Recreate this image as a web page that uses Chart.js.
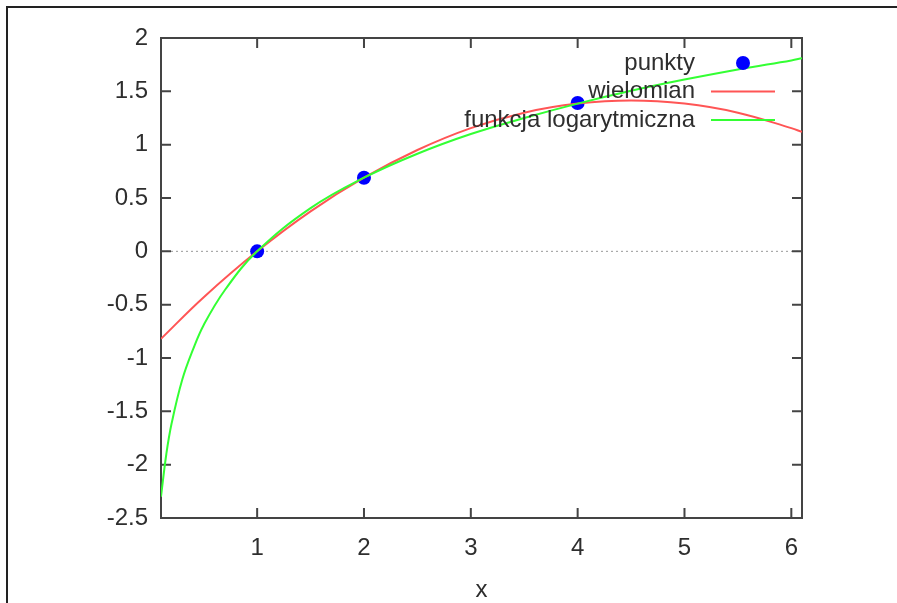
<!DOCTYPE html>
<html>
<head>
<meta charset="utf-8">
<script src="https://cdn.jsdelivr.net/npm/chart.js@4/dist/chart.umd.min.js"></script>
<style>
  html, body { margin:0; padding:0; background:#fff; }
  #wrap { position:relative; width:897px; height:603px; }
  #frame { position:absolute; left:6px; top:6px; right:0; bottom:0;
           border-top:2px solid #222; border-left:2px solid #222; pointer-events:none; }
  canvas { position:absolute; left:0; top:0; }
</style>
</head>
<body>
<div id="wrap">
  <canvas id="chart" width="897" height="603"></canvas>
  <div id="frame"></div>
</div>
<script>
// ---------- Datos ----------
const xTicks = [1, 2, 3, 4, 5, 6];
const xTickLabels = ["1", "2", "3", "4", "5", "6"];
const yTicks = [-2.5, -2, -1.5, -1, -0.5, 0, 0.5, 1, 1.5, 2];
const yTickLabels = ["-2.5", "-2", "-1.5", "-1", "-0.5", "0", "0.5", "1", "1.5", "2"];

// punkty
const pointX = [1, 2, 4];
const pointY = [0, 0.69, 1.39];

// wielomian (czerwona)
const polyX = [0.1, 0.5, 1, 1.5, 2, 2.5, 3, 3.5, 4, 4.5, 5, 5.5, 6, 6.1];
const polyY = [-0.82, -0.43, 0, 0.375, 0.69, 0.95, 1.155, 1.30, 1.385, 1.415, 1.385, 1.30, 1.155, 1.12];

// funkcja logarytmiczna (zielona)
const logX = [0.1, 0.15, 0.2, 0.3, 0.4, 0.5, 0.7, 1, 1.5, 2, 2.5, 3, 3.5, 4, 4.5, 5, 5.5, 6, 6.1];
const logY = [-2.30, -1.90, -1.61, -1.20, -0.92, -0.69, -0.36, 0, 0.405, 0.69, 0.915, 1.10, 1.25, 1.385, 1.505, 1.61, 1.705, 1.79, 1.81];

const seriesNames = ["punkty", "wielomian", "funkcja logarytmiczna"];
const colors = { points: "#0000ff", poly: "#ff5555", log: "#33ff33", text: "#2e2e2e", axis: "#444" };

function toXY(xs, ys){ return xs.map((x,i)=>({x, y: ys[i]})); }

// ---------- Plugin: marco estilo gnuplot ----------
const frame = {
  id: "frame",
  beforeDatasetsDraw(chart){
    const {ctx, chartArea: a, scales:{x, y}} = chart;
    ctx.save();
    // línea de cero punteada
    const y0 = y.getPixelForValue(0);
    ctx.strokeStyle = "#999";
    ctx.lineWidth = 1;
    ctx.setLineDash([2, 3]);
    ctx.beginPath(); ctx.moveTo(a.left, y0); ctx.lineTo(a.right, y0); ctx.stroke();
    ctx.setLineDash([]);
    // borde y marcas hacia dentro
    ctx.strokeStyle = colors.axis;
    ctx.lineWidth = 2;
    ctx.strokeRect(a.left, a.top, a.right - a.left, a.bottom - a.top);
    const t = 10;
    ctx.beginPath();
    xTicks.forEach(v=>{
      const px = x.getPixelForValue(v);
      ctx.moveTo(px, a.bottom); ctx.lineTo(px, a.bottom - t);
      ctx.moveTo(px, a.top); ctx.lineTo(px, a.top + t);
    });
    yTicks.forEach(v=>{
      const py = y.getPixelForValue(v);
      ctx.moveTo(a.left, py); ctx.lineTo(a.left + t, py);
      ctx.moveTo(a.right, py); ctx.lineTo(a.right - t, py);
    });
    ctx.stroke();
    ctx.restore();
  }
};

// ---------- Plugin: leyenda (key) ----------
const key = {
  id: "key",
  afterDatasetsDraw(chart){
    const {ctx} = chart;
    const textRight = 695, sx1 = 711, sx2 = 775;
    const rows = [63, 91.5, 120];
    ctx.save();
    ctx.font = "24px 'Liberation Sans', Arial, sans-serif";
    ctx.fillStyle = colors.text;
    ctx.textAlign = "right";
    ctx.textBaseline = "middle";
    seriesNames.forEach((n,i)=> ctx.fillText(n, textRight, rows[i]));
    // muestras
    ctx.fillStyle = colors.points;
    ctx.beginPath(); ctx.arc((sx1+sx2)/2, rows[0], 7, 0, Math.PI*2); ctx.fill();
    ctx.lineWidth = 2;
    ctx.strokeStyle = colors.poly;
    ctx.beginPath(); ctx.moveTo(sx1, rows[1]); ctx.lineTo(sx2, rows[1]); ctx.stroke();
    ctx.strokeStyle = colors.log;
    ctx.beginPath(); ctx.moveTo(sx1, rows[2]); ctx.lineTo(sx2, rows[2]); ctx.stroke();
    ctx.restore();
  }
};

const font = { family: "'Liberation Sans', Arial, sans-serif", size: 24 };

new Chart(document.getElementById("chart"), {
  type: "scatter",
  data: {
    datasets: [
      { label: seriesNames[0], data: toXY(pointX, pointY), order: 3,
        pointRadius: 7, pointBackgroundColor: colors.points, pointBorderWidth: 0, showLine: false },
      { label: seriesNames[1], data: toXY(polyX, polyY), order: 2, showLine: true,
        borderColor: colors.poly, borderWidth: 2, pointRadius: 0, tension: 0.4 },
      { label: seriesNames[2], data: toXY(logX, logY), order: 1, showLine: true,
        borderColor: colors.log, borderWidth: 2, pointRadius: 0, tension: 0.4 }
    ]
  },
  options: {
    responsive: false,
    animation: false,
    events: [],
    layout: { padding: { left: 0, top: 38, right: 95, bottom: 0 } },
    plugins: { legend: { display: false }, tooltip: { enabled: false } },
    scales: {
      x: {
        type: "linear", min: 0.1, max: 6.1,
        afterBuildTicks: s => { s.ticks = xTicks.map(v=>({value: v})); },
        afterFit: s => { s.height = 85; },
        grid: { display: false, drawTicks: false },
        border: { display: false },
        ticks: { font, color: colors.text, padding: 16, maxRotation: 0,
                 callback: (v) => xTickLabels[xTicks.indexOf(v)] },
        title: { display: true, text: "x", font, color: colors.text, padding: { top: 0, bottom: -2 } }
      },
      y: {
        type: "linear", min: -2.5, max: 2,
        afterBuildTicks: s => { s.ticks = yTicks.map(v=>({value: v})); },
        afterFit: s => { s.width = 161; },
        grid: { display: false, drawTicks: false },
        border: { display: false },
        ticks: { font, color: colors.text, padding: 13,
                 callback: (v) => yTickLabels[yTicks.indexOf(v)] }
      }
    }
  },
  plugins: [frame, key]
});
</script>
</body>
</html>
